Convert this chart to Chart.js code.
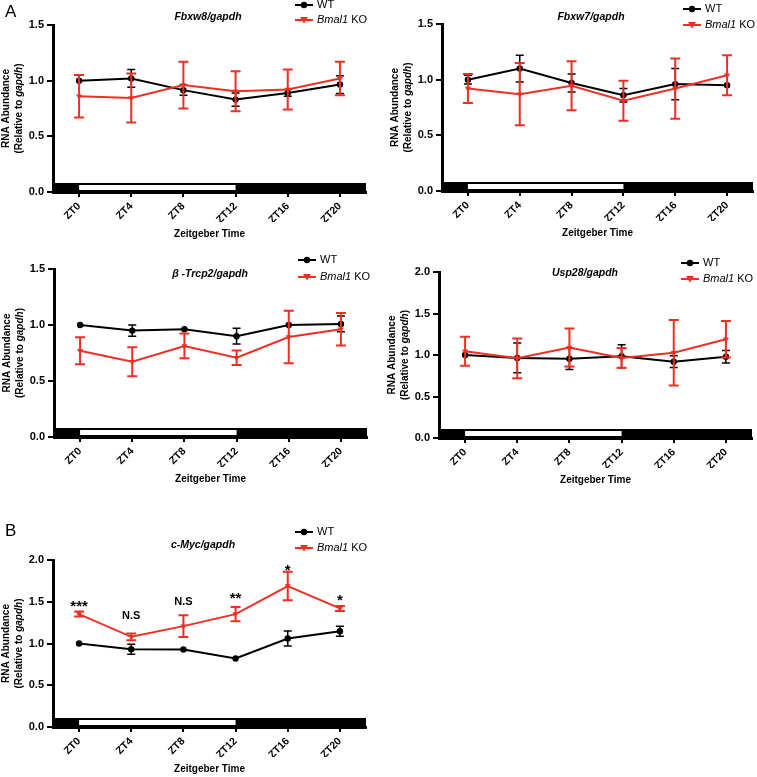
<!DOCTYPE html>
<html>
<head>
<meta charset="utf-8">
<script src="https://cdn.jsdelivr.net/npm/chart.js@4.4.1/dist/chart.umd.min.js"></script>
<style>
  html, body { margin: 0; padding: 0; background: #fff; }
  #wrap { position: relative; width: 757px; height: 777px; }
  #wrap canvas { position: absolute; left: 0; top: 0; }
</style>
</head>
<body>
<div id="wrap">
  <canvas id="c1" width="757" height="777"></canvas>
  <canvas id="c2" width="757" height="777"></canvas>
  <canvas id="c3" width="757" height="777"></canvas>
  <canvas id="c4" width="757" height="777"></canvas>
  <canvas id="c5" width="757" height="777"></canvas>
</div>
<script>
// tiempos de muestreo (Zeitgeber Time)
const zt = [0, 4, 8, 12, 16, 20];
const ztLabels = ['ZT0', 'ZT4', 'ZT8', 'ZT12', 'ZT16', 'ZT20'];
const lightPhase = [0, 12];   // luz encendida ZT0 - ZT12
const xRange = [-2, 22];

// Fbxw8/gapdh
const fbxw8WT = [1.00, 1.02, 0.915, 0.83, 0.89, 0.965];
const fbxw8WTErr = [0.01, 0.08, 0.045, 0.06, 0.03, 0.08];
const fbxw8KO = [0.86, 0.845, 0.96, 0.905, 0.92, 1.02];
const fbxw8KOErr = [0.19, 0.22, 0.21, 0.18, 0.18, 0.15];

// Fbxw7/gapdh
const fbxw7WT = [1.00, 1.10, 0.97, 0.86, 0.96, 0.95];
const fbxw7WTErr = [0.04, 0.12, 0.08, 0.06, 0.14, 0.01];
const fbxw7KO = [0.92, 0.87, 0.945, 0.81, 0.92, 1.04];
const fbxw7KOErr = [0.13, 0.28, 0.22, 0.18, 0.27, 0.18];

// β-Trcp2/gapdh
const trcp2WT = [1.00, 0.95, 0.962, 0.90, 1.00, 1.01];
const trcp2WTErr = [0.005, 0.05, 0.015, 0.07, 0.015, 0.07];
const trcp2KO = [0.77, 0.672, 0.813, 0.708, 0.893, 0.962];
const trcp2KOErr = [0.12, 0.13, 0.11, 0.065, 0.235, 0.145];

// Usp28/gapdh
const usp28WT = [1.00, 0.965, 0.955, 0.985, 0.92, 0.98];
const usp28WTErr = [0.01, 0.18, 0.13, 0.14, 0.07, 0.075];
const usp28KO = [1.045, 0.96, 1.09, 0.965, 1.028, 1.19];
const usp28KOErr = [0.175, 0.24, 0.23, 0.12, 0.395, 0.22];

// c-Myc/gapdh
const cmycWT = [1.00, 0.932, 0.928, 0.82, 1.06, 1.148];
const cmycWTErr = [0.005, 0.06, 0.012, 0.015, 0.09, 0.06];
const cmycKO = [1.352, 1.08, 1.208, 1.352, 1.688, 1.42];
const cmycKOErr = [0.03, 0.04, 0.13, 0.085, 0.17, 0.03];
const cmycSig = ['***', 'N.S', 'N.S', '**', '*', '*'];
const cmycSigY = [1.39, 1.29, 1.46, 1.485, 1.82, 1.46];

// estilos
const FAM = '"Liberation Sans", Arial, Helvetica, sans-serif';
const RED = '#EE2F24';
const BLACK = '#000';
const AXIS_W = 36;
const AXIS_H = 30;
const LD_H = 9;

const panels = [
  { id: 'c1', area: {left: 53, right: 366, top: 25, bottom: 192}, yMax: 1.5, letter: 'A', letterPos: [5, 12],
    title: 'Fbxw8/gapdh', titlePos: [208, 17], legend: [295, 5, 20],
    wt: fbxw8WT, wtErr: fbxw8WTErr, ko: fbxw8KO, koErr: fbxw8KOErr },
  { id: 'c2', area: {left: 442, right: 755, top: 24, bottom: 191}, yMax: 1.5,
    title: 'Fbxw7/gapdh', titlePos: [591, 17], legend: [683, 9, 25],
    wt: fbxw7WT, wtErr: fbxw7WTErr, ko: fbxw7KO, koErr: fbxw7KOErr },
  { id: 'c3', area: {left: 54, right: 367, top: 269, bottom: 437}, yMax: 1.5,
    title: 'β -Trcp2/gapdh', titlePos: [210, 274], legend: [298, 260, 277],
    wt: trcp2WT, wtErr: trcp2WTErr, ko: trcp2KO, koErr: trcp2KOErr },
  { id: 'c4', area: {left: 439, right: 752, top: 272, bottom: 438}, yMax: 2.0,
    title: 'Usp28/gapdh', titlePos: [585, 273], legend: [681, 263, 279],
    wt: usp28WT, wtErr: usp28WTErr, ko: usp28KO, koErr: usp28KOErr },
  { id: 'c5', area: {left: 53, right: 366, top: 560, bottom: 727}, yMax: 2.0, letter: 'B', letterPos: [5, 531],
    title: 'c-Myc/gapdh', titlePos: [203, 545], legend: [295, 532, 548],
    wt: cmycWT, wtErr: cmycWTErr, ko: cmycKO, koErr: cmycKOErr, sig: cmycSig, sigY: cmycSigY }
];

// dibuja texto con varios estilos en la misma línea
function drawRuns(ctx, runs, x, y, align) {
  let total = 0;
  runs.forEach(r => { ctx.font = r[1]; total += ctx.measureText(r[0]).width; });
  let cx = align === 'center' ? x - total / 2 : x;
  ctx.textAlign = 'left';
  runs.forEach(r => {
    ctx.font = r[1];
    ctx.fillText(r[0], cx, y);
    cx += ctx.measureText(r[0]).width;
  });
}

function marker(ctx, style, x, y, color) {
  ctx.fillStyle = color;
  ctx.beginPath();
  if (style === 'circle') {
    ctx.arc(x, y, 3.2, 0, Math.PI * 2);
  } else {
    ctx.moveTo(x - 4, y - 3);
    ctx.lineTo(x + 4, y - 3);
    ctx.lineTo(x, y + 3.5);
    ctx.closePath();
  }
  ctx.fill();
}

// barras de error (media ± SEM)
const errorBars = {
  id: 'errorBars',
  afterDatasetDraw(chart, args) {
    const ds = chart.data.datasets[args.index];
    const {ctx, scales: {x, y}} = chart;
    ctx.save();
    ctx.strokeStyle = ds.borderColor;
    ctx.lineWidth = ds.errWidth;
    ds.data.forEach((pt, i) => {
      const e = ds.err[i];
      const px = x.getPixelForValue(pt.x);
      const top = y.getPixelForValue(pt.y + e);
      const bot = y.getPixelForValue(pt.y - e);
      if (bot - top < 4) return;
      const c = ds.capWidth / 2;
      ctx.beginPath();
      ctx.moveTo(px, top); ctx.lineTo(px, bot);
      ctx.moveTo(px - c, top); ctx.lineTo(px + c, top);
      ctx.moveTo(px - c, bot); ctx.lineTo(px + c, bot);
      ctx.stroke();
    });
    ctx.restore();
  }
};

// barra de luz / oscuridad sobre el eje x
const ldBar = {
  id: 'ldBar',
  beforeDatasetsDraw(chart) {
    const {ctx, chartArea: a, scales: {x}} = chart;
    ctx.save();
    ctx.fillStyle = BLACK;
    ctx.fillRect(a.left, a.bottom - LD_H, a.right - a.left, LD_H);
    const x0 = x.getPixelForValue(lightPhase[0]);
    const x1 = x.getPixelForValue(lightPhase[1]);
    ctx.fillStyle = '#fff';
    ctx.fillRect(x0, a.bottom - LD_H + 2, x1 - x0, LD_H - 4);
    ctx.restore();
  }
};

function makePanel(p) {
  const decor = {
    id: 'decor',
    afterDraw(chart) {
      const {ctx, chartArea: a, scales: {x, y}} = chart;
      ctx.save();
      ctx.fillStyle = BLACK;
      ctx.textBaseline = 'middle';

      // letra del panel
      if (p.letter) {
        ctx.font = '17px ' + FAM;
        ctx.textAlign = 'left';
        ctx.fillText(p.letter, p.letterPos[0], p.letterPos[1]);
      }
      // titulo
      drawRuns(ctx, [[p.title, 'italic bold 10.5px ' + FAM]], p.titlePos[0], p.titlePos[1], 'center');

      // leyenda
      const [lx, wy, ky] = p.legend;
      ctx.lineWidth = 2;
      ctx.strokeStyle = BLACK;
      ctx.beginPath(); ctx.moveTo(lx, wy); ctx.lineTo(lx + 18, wy); ctx.stroke();
      marker(ctx, 'circle', lx + 9, wy, BLACK);
      ctx.strokeStyle = RED;
      ctx.beginPath(); ctx.moveTo(lx, ky); ctx.lineTo(lx + 18, ky); ctx.stroke();
      marker(ctx, 'triangle', lx + 9, ky, RED);
      ctx.fillStyle = BLACK;
      drawRuns(ctx, [['WT', '11px ' + FAM]], lx + 22, wy, 'left');
      drawRuns(ctx, [['Bmal1', 'italic 11px ' + FAM], [' KO', '11px ' + FAM]], lx + 22, ky, 'left');

      // titulo eje y (dos lineas, rotado)
      const midY = (a.top + a.bottom) / 2;
      ctx.save();
      ctx.translate(a.left - 47, midY);
      ctx.rotate(-Math.PI / 2);
      drawRuns(ctx, [['RNA Abundance', 'bold 10px ' + FAM]], 0, 0, 'center');
      ctx.restore();
      ctx.save();
      ctx.translate(a.left - 34, midY);
      ctx.rotate(-Math.PI / 2);
      drawRuns(ctx, [['(Relative to ', 'bold 10px ' + FAM], ['gapdh', 'italic bold 10px ' + FAM], [')', 'bold 10px ' + FAM]], 0, 0, 'center');
      ctx.restore();

      // titulo eje x
      drawRuns(ctx, [['Zeitgeber Time', 'bold 10px ' + FAM]], (a.left + a.right) / 2, a.bottom + 42, 'center');

      // significancia
      if (p.sig) {
        ctx.textBaseline = 'alphabetic';
        p.sig.forEach((s, i) => {
          const f = s.indexOf('*') >= 0 ? 'bold 15px ' : 'bold 11px ';
          drawRuns(ctx, [[s, f + FAM]], x.getPixelForValue(zt[i]), y.getPixelForValue(p.sigY[i]), 'center');
        });
      }
      ctx.restore();
    }
  };

  return new Chart(document.getElementById(p.id), {
    type: 'line',
    data: {
      datasets: [
        {
          label: 'WT', order: 1,
          data: zt.map((t, i) => ({x: t, y: p.wt[i]})),
          err: p.wtErr, capWidth: 8, errWidth: 1.5,
          borderColor: BLACK, backgroundColor: BLACK, borderWidth: 2,
          pointStyle: 'circle', pointRadius: 3.2, pointBorderWidth: 0,
          tension: 0
        },
        {
          label: 'Bmal1 KO', order: 0,
          data: zt.map((t, i) => ({x: t, y: p.ko[i]})),
          err: p.koErr, capWidth: 10, errWidth: 2,
          borderColor: RED, backgroundColor: RED, borderWidth: 2,
          pointStyle: 'triangle', rotation: 180, pointRadius: 3.5, pointBorderWidth: 0,
          tension: 0
        }
      ]
    },
    options: {
      responsive: false,
      animation: false,
      events: [],
      layout: {
        padding: {
          left: p.area.left - AXIS_W,
          right: 757 - p.area.right,
          top: p.area.top,
          bottom: 777 - p.area.bottom - AXIS_H
        }
      },
      plugins: { legend: {display: false}, tooltip: {enabled: false} },
      scales: {
        x: {
          type: 'linear', min: xRange[0], max: xRange[1],
          afterBuildTicks: s => { s.ticks = zt.map(v => ({value: v})); },
          afterFit: s => { s.height = AXIS_H; s.paddingLeft = 0; s.paddingRight = 0; },
          ticks: {
            autoSkip: false, minRotation: 45, maxRotation: 45, padding: 3,
            color: BLACK, font: {family: FAM, size: 10.5, weight: 'bold'},
            callback: v => ztLabels[zt.indexOf(v)]
          },
          grid: {drawOnChartArea: false, drawTicks: true, tickLength: 5, color: BLACK, lineWidth: 2},
          border: {color: BLACK, width: 3}
        },
        y: {
          min: 0, max: p.yMax,
          afterFit: s => { s.width = AXIS_W; s.paddingTop = 0; s.paddingBottom = 0; },
          ticks: {
            stepSize: 0.5, padding: 3,
            color: BLACK, font: {family: FAM, size: 11, weight: 'bold'},
            callback: v => v.toFixed(1)
          },
          grid: {drawOnChartArea: false, drawTicks: true, tickLength: 6, color: BLACK, lineWidth: 2},
          border: {color: BLACK, width: 3}
        }
      }
    },
    plugins: [ldBar, errorBars, decor]
  });
}

panels.forEach(makePanel);
</script>
</body>
</html>
